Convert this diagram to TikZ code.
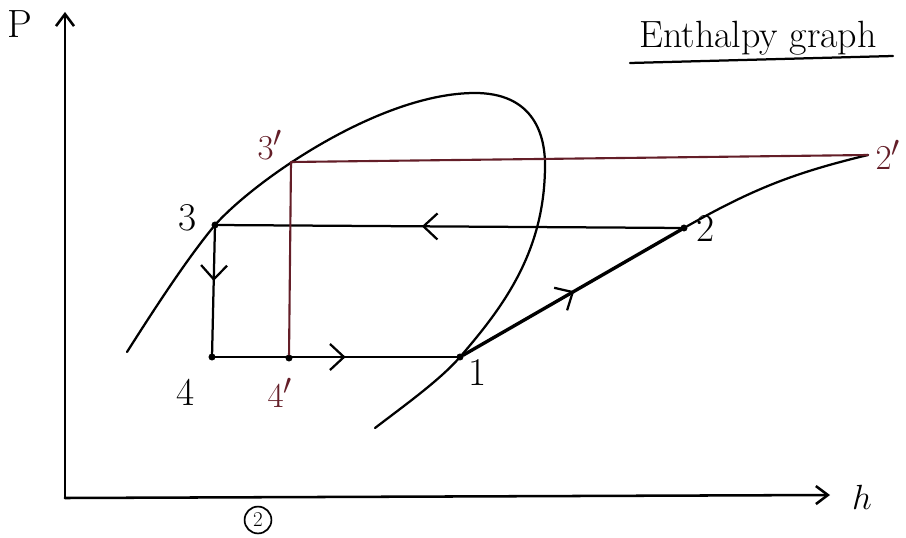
\documentclass[tikz,border=0pt]{standalone}
\usetikzlibrary{arrows.meta,decorations.markings}
\definecolor{maroon}{RGB}{100,30,40}
\begin{document}
\begin{tikzpicture}[x=0.025cm,y=-0.025cm,line cap=round,line join=round,
	dot/.style={draw,fill=black,circle,inner sep=0pt,minimum size=0.16cm},
	lbl/.style={font=\fontsize{28}{32}\selectfont},
	midarrow/.style={postaction={decorate},decoration={markings,
		mark=at position #1 with {\arrow{Straight Barb[length=0.35cm,width=0.65cm,line width=1.6pt]}}}}]
	  \useasboundingbox (0,0) rectangle (906,538);
	  \draw [line width=1.8pt,-{Straight Barb[length=0.3cm,width=0.45cm]}] (65,498) -- (65,12);
	  \draw [line width=1.8pt,-{Straight Barb[length=0.3cm,width=0.45cm]}] (65,498) -- (830,495);
	  \node [lbl] at (20,24) (pP) {P};
	  \node [font=\fontsize{34}{38}\selectfont] at (862,497) (ph) {$h$};
	  \node [font=\fontsize{27}{31}\selectfont] at (758,38) (title) {Enthalpy graph};
	  \draw [line width=1.6pt] (630,63) -- (893,56);
	  \draw [line width=1.6pt] (127,352) .. controls (160,300) and (190,255) .. (215,225)
	  	.. controls (255,180) and (380,93) .. (475,93)
	  	.. controls (530,93) and (545,130) .. (545,165)
	  	.. controls (545,250) and (505,305) .. (460,357)
	  	.. controls (440,380) and (405,405) .. (375,428);
	  \foreach \n/\x/\y in {s3/215/225, s4/212/357, s4p/289/358, s1/460/357, s2/684/228}{
	  	\node [dot] at (\x,\y) (\n) {};
	  }
	  \coordinate (s3p) at (291,162);
	  \coordinate (s2p) at (868,155);
	  \draw [line width=1.6pt,midarrow=0.56] (s2) -- (s3);
	  \draw [line width=1.6pt,midarrow=0.42] (s3) -- (s4);
	  \draw [line width=1.8pt,midarrow=0.54] (s4) -- (s1);
	  \draw [line width=2.4pt,midarrow=0.51] (s1) -- (s2);
	  \draw [line width=1.6pt] (s2) to [bend left=8] (s2p);
	  \draw [line width=1.5pt,color=maroon] (s3p) -- (s4p) (s3p) -- (s2p);
	  \node [lbl] at (188,218) (l3) {3};
	  \node [lbl] at (186,392) (l4) {4};
	  \node [lbl] at (478,372) (l1) {1};
	  \node [lbl] at (706,228) (l2) {2};
	  \node [lbl,color=maroon] at (270,145) (l3p) {$3'$};
	  \node [lbl,color=maroon] at (280,393) (l4p) {$4'$};
	  \node [lbl,color=maroon] at (888,155) (l2p) {$2'$};
	  \node [draw,circle,line width=1.2pt,inner sep=2.5pt,font=\fontsize{15}{17}\selectfont] at (258,520) (pg) {2};
	\end{tikzpicture}
\end{document}
